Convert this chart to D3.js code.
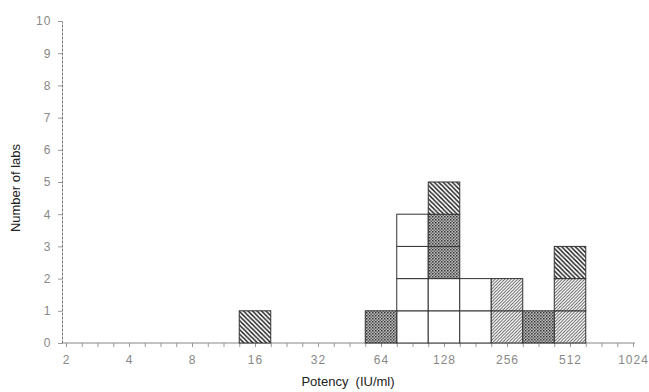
<!DOCTYPE html>
<html>
<head>
<meta charset="utf-8">
<script src="https://cdn.jsdelivr.net/npm/d3@7"></script>
<style>
    body { margin: 0; background: #fff; }
    svg { display: block; }
    .tick text { font-family: "Liberation Sans", Arial, sans-serif; font-size: 12px; fill: #888; letter-spacing: 1px; }
    .axis-title { font-family: "Liberation Sans", Arial, sans-serif; font-size: 13px; fill: #222; white-space: pre; }
</style>
</head>
<body>
<svg id="chart"></svg>
<script>
// bins are half an octave wide, centred on these potencies (IU/ml)
const binCenters = [16, 64, 90.5, 128, 181, 256, 362, 512];
// number of labs in each bin, by fill pattern (stacked bottom to top)
const whiteLabs = [0, 0, 4, 2, 2, 0, 0, 0];
const fwdHatchLabs = [0, 0, 0, 0, 0, 2, 0, 2];
const crossLabs = [0, 1, 0, 2, 0, 0, 1, 0];
const backHatchLabs = [1, 0, 0, 1, 0, 0, 0, 1];

const xLabels = [2, 4, 8, 16, 32, 64, 128, 256, 512, 1024];
const yTicks = [0, 1, 2, 3, 4, 5, 6, 7, 8, 9, 10];

const width = 649, height = 392;
const svg = d3.select('#chart').attr('width', width).attr('height', height);

const x = d3.scaleLog().base(2).domain([2, 1024]).range([66, 633]);
const y = d3.scaleLinear().domain([0, 10]).range([343, 21]);

// patterns
const defs = svg.append('defs');

const back = defs.append('pattern').attr('id', 'back')
    .attr('patternUnits', 'userSpaceOnUse').attr('width', 4.5).attr('height', 4.5);
back.append('rect').attr('width', 4.5).attr('height', 4.5).attr('fill', '#fff');
back.append('path').attr('d', 'M-1,-1 L5.5,5.5 M-1,3.5 L1,5.5 M3.5,-1 L5.5,1')
    .attr('stroke', '#111').attr('stroke-width', 1.4);

const fwd = defs.append('pattern').attr('id', 'fwd')
    .attr('patternUnits', 'userSpaceOnUse').attr('width', 3.2).attr('height', 3.2);
fwd.append('rect').attr('width', 3.2).attr('height', 3.2).attr('fill', '#fff');
fwd.append('path').attr('d', 'M-1,4.2 L4.2,-1 M-1,1 L1,-1 M2.2,4.2 L4.2,2.2')
    .attr('stroke', '#555').attr('stroke-width', 0.9);

const cross = defs.append('pattern').attr('id', 'cross')
    .attr('patternUnits', 'userSpaceOnUse').attr('width', 3).attr('height', 3);
cross.append('rect').attr('width', 3).attr('height', 3).attr('fill', '#b8b8b8');
cross.append('rect').attr('width', 1.5).attr('height', 1.5).attr('fill', '#3a3a3a');
cross.append('rect').attr('x', 1.5).attr('y', 1.5).attr('width', 1.5).attr('height', 1.5).attr('fill', '#666');

const fills = { white: '#fff', fwd: 'url(#fwd)', cross: 'url(#cross)', back: 'url(#back)' };

// stack the series, then split each segment into one cell per lab
const rows = binCenters.map((c, i) => ({
    center: c, white: whiteLabs[i], fwd: fwdHatchLabs[i], cross: crossLabs[i], back: backHatchLabs[i]
}));
const stacked = d3.stack().keys(['white', 'fwd', 'cross', 'back'])(rows);

const cells = [];
stacked.forEach(s => {
    s.forEach(seg => {
        for (let v = seg[0]; v < seg[1]; v++) {
            cells.push({ center: seg.data.center, level: v, type: s.key });
        }
    });
});

// axes
const xTicks = d3.range(0, 37).map(i => Math.pow(2, 1 + i / 4));
const xAxis = d3.axisBottom(x)
    .tickValues(xTicks)
    .tickSize(4)
    .tickSizeOuter(0)
    .tickFormat(d => {
        const r = Math.round(d);
        return xLabels.includes(r) && Math.abs(d - r) < 1e-6 ? r : '';
    });

const gx = svg.append('g').attr('transform', 'translate(0,' + y(0) + ')').call(xAxis);
gx.select('.domain').attr('d', 'M62,0H635').attr('stroke', '#888');
gx.selectAll('.tick line').attr('stroke', '#999');
gx.selectAll('.tick text').attr('dy', '1.15em');

const yAxis = d3.axisLeft(y).tickValues(yTicks).tickSize(4).tickSizeOuter(0);
const gy = svg.append('g').attr('transform', 'translate(62,0)').call(yAxis);
gy.select('.domain').attr('stroke', '#777').attr('stroke-dasharray', '3,1');
gy.selectAll('.tick line').attr('stroke', '#999');
gy.selectAll('.tick text').attr('dx', '-0.3em');

// cells
svg.append('g')
    .selectAll('rect')
    .data(cells)
    .enter()
    .append('rect')
    .attr('x', d => x(d.center * Math.pow(2, -0.25)))
    .attr('width', d => x(d.center * Math.pow(2, 0.25)) - x(d.center * Math.pow(2, -0.25)))
    .attr('y', d => y(d.level + 1))
    .attr('height', d => y(d.level) - y(d.level + 1))
    .attr('fill', d => fills[d.type])
    .attr('stroke', '#333')
    .attr('stroke-width', 1);

// titles
svg.append('text')
    .attr('class', 'axis-title')
    .attr('transform', 'translate(20,' + (y(5) + 6) + ') rotate(-90)')
    .attr('text-anchor', 'middle')
    .text('Number of labs');

svg.append('text')
    .attr('class', 'axis-title')
    .attr('x', 348)
    .attr('y', 386)
    .attr('text-anchor', 'middle')
    .text('Potency  (IU/ml)');
</script>
</body>
</html>
